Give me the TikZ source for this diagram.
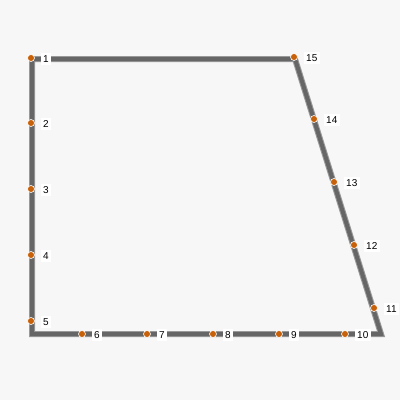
\documentclass[tikz,border=0pt]{standalone}
\usepackage{fontspec}
\setmainfont{Liberation Sans}
\definecolor{dotc}{RGB}{200,98,10}
\begin{document}
\begin{tikzpicture}[x=1pt,y=-1pt,
  edgeout/.style={line width=6pt,draw=black!40},
  edgein/.style={line width=4pt,draw=black!60},
  pdot/.style={circle,fill=dotc,draw=white,line width=0.6pt,inner sep=0pt,minimum size=7pt},
  plabel/.style={fill=white,inner sep=2.5pt,font=\fontsize{10}{10}\selectfont,anchor=west}]
\fill[black!3] (0,0) rectangle (400,400);
\useasboundingbox (0,0) rectangle (400,400);
\coordinate (c1) at (32,59);
\coordinate (c2) at (295,59);
\coordinate (c3) at (381,334);
\coordinate (c4) at (32,334);
\draw[edgeout,line join=miter] (c1) -- (c2) -- (c3) -- (c4) -- cycle;
\draw[edgein,line join=miter] (c1) -- (c2) -- (c3) -- (c4) -- cycle;
\foreach \n/\x/\y in {1/31/58,2/31/123,3/31/189,4/31/255,5/31/321,6/82/334,7/147/334,8/213/334,9/279/334,10/345/334,11/374/308,12/354/245,13/334/182,14/314/119,15/294/57}{
  \node[pdot] (p\n) at (\x,\y) {};
  \node[plabel] (l\n) at ([xshift=9.5pt,yshift=-1pt]p\n.center) {\n};
}
\end{tikzpicture}
\end{document}
